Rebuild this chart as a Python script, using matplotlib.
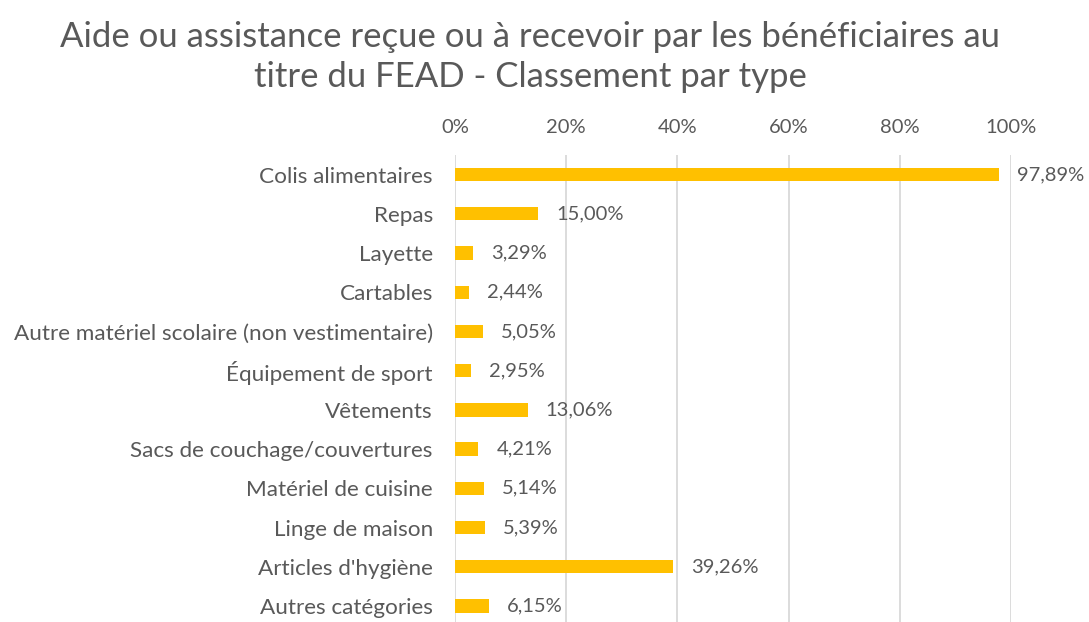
import numpy as np
import matplotlib.pyplot as plt
from matplotlib.ticker import PercentFormatter

categories = ["Colis alimentaires", "Repas", "Layette", "Cartables",
              "Autre matériel scolaire (non vestimentaire)", "Équipement de sport",
              "Vêtements", "Sacs de couchage/couvertures", "Matériel de cuisine",
              "Linge de maison", "Articles d'hygiène", "Autres catégories"]
values = [97.89, 15.00, 3.29, 2.44, 5.05, 2.95, 13.06, 4.21, 5.14, 5.39, 39.26, 6.15]
xticks = [0, 20, 40, 60, 80, 100]

plt.rcParams['font.family'] = ['Lato', 'DejaVu Sans']
grey = '#595959'

fig = plt.figure(figsize=(10.89, 6.22), dpi=100)
ax = fig.add_axes([455 / 1089, 1 - 625.6 / 622, 556 / 1089, 470.6 / 622])

y = np.arange(len(categories))
ax.barh(y, values, height=0.34, color='#FFC000', zorder=3)
for yi, v in zip(y, values):
    ax.annotate(f"{v:.2f}%".replace('.', ','), (v, yi), xytext=(13, 0),
                textcoords='offset points', va='center', ha='left',
                fontsize=14.5, color=grey)

ax.set_xlim(0, 100)
ax.set_ylim(len(categories) - 0.5, -0.5)
ax.set_xticks(xticks)
ax.xaxis.set_major_formatter(PercentFormatter(decimals=0))
ax.xaxis.tick_top()
ax.set_yticks(y)
ax.set_yticklabels(categories)
ax.tick_params(axis='both', length=0, labelcolor=grey)
ax.tick_params(axis='x', pad=14, labelsize=14.5)
ax.tick_params(axis='y', pad=16, labelsize=16.2)
ax.grid(axis='x', color='#D9D9D9', linewidth=1.3, zorder=0)
for s in ax.spines.values():
    s.set_visible(False)

fig.text(530 / 1089, 1 - 57 / 622, "Aide ou assistance reçue ou à recevoir par les bénéficiaires au\ntitre du FEAD - Classement par type",
         ha='center', va='center', fontsize=25, color=grey, linespacing=1.32)

fig.savefig('out.png', dpi=100)
